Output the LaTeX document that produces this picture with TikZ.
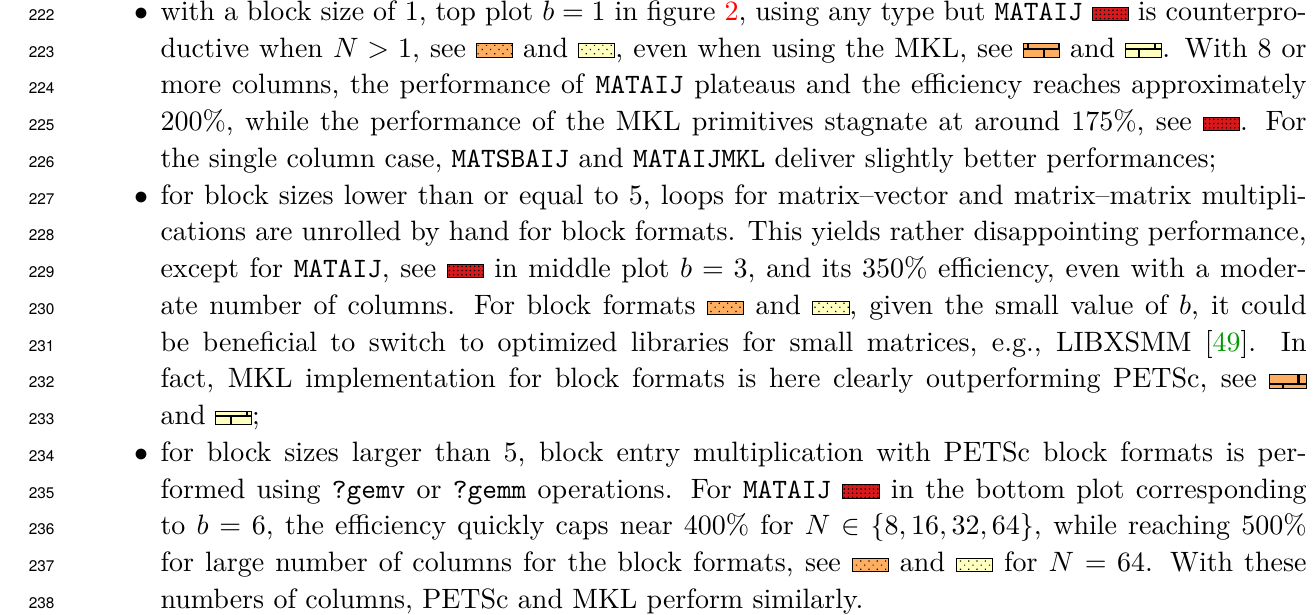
\documentclass[tikz,border=0pt]{standalone}
\usepackage{fontspec}
\usetikzlibrary{patterns,patterns.meta}
\newfontfamily\lnfont{TeX Gyre Heros}
\definecolor{bred}{HTML}{D7191C}
\definecolor{borange}{HTML}{FDAE61}
\definecolor{byellow}{HTML}{FFFFBF}
\definecolor{citegreen}{rgb}{0,0.6,0}
\definecolor{refred}{rgb}{1,0,0}
\newlength\linew
\setlength\linew{409.3pt}
\newcommand\mysw[2]{\tikz[baseline=0pt]{\fill[#1] (0pt,0pt) rectangle (12.9pt,4.8pt); \fill[pattern=#2] (0pt,0pt) rectangle (12.9pt,4.8pt); \draw[line width=0.35pt] (0pt,0pt) rectangle (12.9pt,4.8pt);}}
\newcommand\swR{\mysw{bred}{{Dots[distance=1.5pt,radius=0.3pt]}}}
\newcommand\swO{\mysw{borange}{{Dots[distance=2.1pt,angle=45,radius=0.3pt]}}}
\newcommand\swY{\mysw{byellow}{{Dots[distance=2.1pt,angle=45,radius=0.3pt]}}}
\newcommand\brO{\mysw{borange}{bricks}}
\newcommand\brY{\mysw{byellow}{bricks}}
\newcommand\jl[1]{\makebox[\linew][s]{#1}}
\tikzset{
  txt/.style={anchor=base west, inner sep=0pt, font=\fontsize{10}{12}\selectfont},
  lnum/.style={anchor=base east, inner sep=0pt, font=\lnfont\fontsize{5.5}{7}\selectfont},
  bul/.style={anchor=base, inner sep=0pt, font=\fontsize{10}{12}\selectfont}
}
\begin{document}
\begin{tikzpicture}[x=0.357143pt,y=0.357143pt]
\useasboundingbox (0,0) rectangle (1315,-615);
\foreach \i in {0,...,16} {
  \pgfmathtruncatemacro\n{222+\i}
  \node[lnum] (n\n) at (55,{-20.5-36.75*\i}) {\n};
}
\node[bul] (b1) at (141,-20.5) {$\bullet$};
\node[bul] (b2) at (141,{-20.5-36.75*5}) {$\bullet$};
\node[bul] (b3) at (141,{-20.5-36.75*12}) {$\bullet$};
\node[txt] (l222) at (160,{-20.5-36.75*0}) {\jl{with a block size of 1, top plot $b=1$ in figure \textcolor{refred}{2}, using any type but \texttt{MATAIJ} \swR{} is counterpro-}};
\node[txt] (l223) at (160,{-20.5-36.75*1}) {\jl{ductive when $N>1$, see \swO{} and \swY, even when using the MKL, see \brO{} and \brY. With 8 or}};
\node[txt] (l224) at (160,{-20.5-36.75*2}) {\jl{more columns, the performance of \texttt{MATAIJ} plateaus and the efficiency reaches approximately}};
\node[txt] (l225) at (160,{-20.5-36.75*3}) {\jl{200\%, while the performance of the MKL primitives stagnate at around 175\%, see \swR. For}};
\node[txt] (l226) at (160,{-20.5-36.75*4}) {the single column case, \texttt{MATSBAIJ} and \texttt{MATAIJMKL} deliver slightly better performances;};
\node[txt] (l227) at (160,{-20.5-36.75*5}) {\jl{for block sizes lower than or equal to 5, loops for matrix--vector and matrix--matrix multipli-}};
\node[txt] (l228) at (160,{-20.5-36.75*6}) {\jl{cations are unrolled by hand for block formats. This yields rather disappointing performance,}};
\node[txt] (l229) at (160,{-20.5-36.75*7}) {\jl{except for \texttt{MATAIJ}, see \swR{} in middle plot $b=3$, and its 350\% efficiency, even with a moder-}};
\node[txt] (l230) at (160,{-20.5-36.75*8}) {\jl{ate number of columns. For block formats \swO{} and \swY, given the small value of $b$, it could}};
\node[txt] (l231) at (160,{-20.5-36.75*9}) {\jl{be beneficial to switch to optimized libraries for small matrices, e.g., LIBXSMM [\textcolor{citegreen}{49}]. In}};
\node[txt] (l232) at (160,{-20.5-36.75*10}) {\jl{fact, MKL implementation for block formats is here clearly outperforming PETSc, see \brO}};
\node[txt] (l233) at (160,{-20.5-36.75*11}) {and \brY;};
\node[txt] (l234) at (160,{-20.5-36.75*12}) {\jl{for block sizes larger than 5, block entry multiplication with PETSc block formats is per-}};
\node[txt] (l235) at (160,{-20.5-36.75*13}) {\jl{formed using \texttt{?gemv} or \texttt{?gemm} operations. For \texttt{MATAIJ} \swR{} in the bottom plot corresponding}};
\node[txt] (l236) at (160,{-20.5-36.75*14}) {\jl{to $b=6$, the efficiency quickly caps near 400\% for $N\in\{8,16,32,64\}$, while reaching 500\%}};
\node[txt] (l237) at (160,{-20.5-36.75*15}) {\jl{for large number of columns for the block formats, see \swO{} and \swY{} for $N=64$. With these}};
\node[txt] (l238) at (160,{-20.5-36.75*16}) {numbers of columns, PETSc and MKL perform similarly.};
\end{tikzpicture}
\end{document}
